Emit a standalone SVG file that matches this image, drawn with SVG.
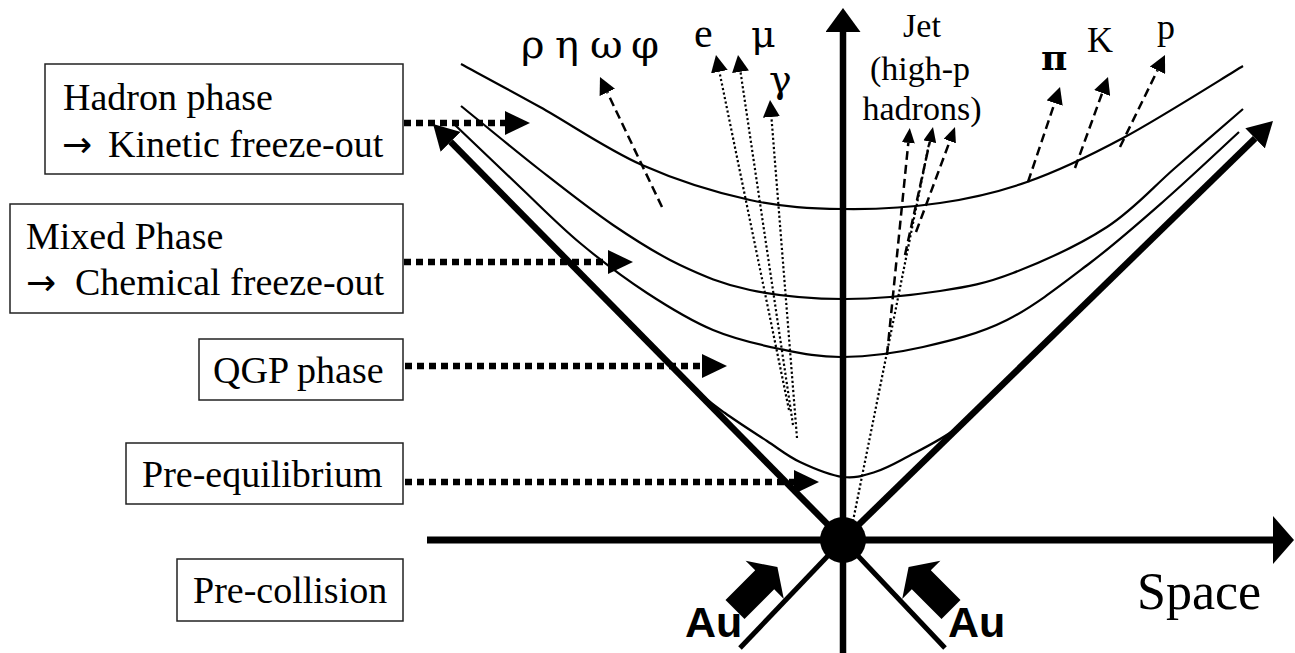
<svg xmlns="http://www.w3.org/2000/svg" width="1295" height="653" viewBox="0 0 1295 653">
<defs>
<style>
.box{fill:#fff;stroke:#222;stroke-width:1.5}
.lbl{font-family:"Liberation Serif","Times New Roman",serif;font-size:38px;fill:#000}
.arr{font-family:"DejaVu Sans",sans-serif;font-size:36px}
.phase{fill:none;stroke:#000;stroke-width:6.5;stroke-dasharray:7 5}
.curve{fill:none;stroke:#000;stroke-width:2.2}
.thick{fill:none;stroke:#000;stroke-width:6.5}
.leg{fill:none;stroke:#000;stroke-width:5}
.dash{fill:none;stroke:#000;stroke-width:2.5;stroke-dasharray:9 5}
.dot{fill:none;stroke:#000;stroke-width:2.2;stroke-dasharray:2.2 2.4}
.sym{font-family:"Liberation Serif","DejaVu Serif",serif;fill:#000}
.grk{font-family:"DejaVu Serif","Liberation Serif",serif;fill:#000}
.au{font-family:"Liberation Sans",Arial,sans-serif;font-weight:bold;font-size:43px;fill:#000}
</style>
<marker id="ahPhase" markerUnits="userSpaceOnUse" markerWidth="25" markerHeight="24" viewBox="0 0 25 24" refX="0" refY="12" orient="auto"><path d="M0,0L25,12L0,24z" fill="#000"/></marker>
<marker id="ahCone" markerUnits="userSpaceOnUse" markerWidth="25" markerHeight="28" viewBox="0 0 25 28" refX="0" refY="14" orient="auto"><path d="M0,0L25,14L0,28z" fill="#000"/></marker>
<marker id="ahV" markerUnits="userSpaceOnUse" markerWidth="24" markerHeight="35" viewBox="0 0 24 35" refX="0" refY="17.5" orient="auto"><path d="M0,0L24,17.5L0,35z" fill="#000"/></marker>
<marker id="ahH" markerUnits="userSpaceOnUse" markerWidth="21" markerHeight="48" viewBox="0 0 21 48" refX="0" refY="24" orient="auto"><path d="M0,0L21,24L0,48z" fill="#000"/></marker>
<marker id="ahS" markerUnits="userSpaceOnUse" markerWidth="17" markerHeight="17" viewBox="0 0 17 17" refX="0" refY="8.5" orient="auto"><path d="M0,0L17,8.5L0,17z" fill="#000"/></marker>
<marker id="ahJ" markerUnits="userSpaceOnUse" markerWidth="15" markerHeight="13" viewBox="0 0 15 13" refX="0" refY="6.5" orient="auto"><path d="M0,0L15,6.5L0,13z" fill="#000"/></marker>
</defs>
<rect width="1295" height="653" fill="#fff"/>

<g id="freeze-out-curves">
<path class="curve" d="M461,64 C474.2,71.2 509.8,90.2 540,107 C570.2,123.8 607,149.5 642,165 C677,180.5 716.5,192.7 750,200 C783.5,207.3 811.3,208.5 843,209 C874.7,209.5 909.3,207.5 940,203 C970.7,198.5 996.5,192.8 1027,182 C1057.5,171.2 1087,157.3 1123,138 C1159,118.7 1223,78 1243,66"/>
<path class="curve" d="M461,106 C474.2,116.7 514.7,150.2 540,170 C565.3,189.8 589.7,209.2 613,225 C636.3,240.8 657.2,254.2 680,265 C702.8,275.8 722.8,284.3 750,290 C777.2,295.7 811.3,298.8 843,299 C874.7,299.2 911.7,295.3 940,291 C968.3,286.7 985.2,283.7 1013,273 C1040.8,262.3 1080,244.5 1107,227 C1134,209.5 1152.3,187.7 1175,168 C1197.7,148.3 1231.7,118.8 1243,109"/>
<path class="curve" d="M455,125 C465.8,135.3 499.2,167.3 520,187 C540.8,206.7 558.8,225.3 580,243 C601.2,260.7 624.8,278.5 647,293 C669.2,307.5 690.8,320.7 713,330 C735.2,339.3 758.3,344.5 780,349 C801.7,353.5 819.2,357.3 843,357 C866.8,356.7 895.7,353.2 923,347 C950.3,340.8 979.2,334 1007,320 C1034.8,306 1063.7,283 1090,263 C1116.3,243 1140.2,221.8 1165,200 C1189.8,178.2 1226.7,143.3 1239,132"/>
<path class="curve" d="M640,334 C648.3,342.5 675.8,371.8 690,385 C704.2,398.2 712.2,403.7 725,413 C737.8,422.3 754.5,432.8 767,441 C779.5,449.2 787.3,456 800,462 C812.7,468 830.5,475.3 843,477 C855.5,478.7 864.3,475.3 875,472 C885.7,468.7 893.3,464.3 907,457 C920.7,449.7 941.5,439.7 957,428 C972.5,416.3 992.8,393.8 1000,387"/>
</g>

<g id="light-cone">
<path class="thick" d="M843,540 L450.6,141.8" marker-end="url(#ahCone)"/>
<path class="thick" d="M843,540 L1255.1,138.4" marker-end="url(#ahCone)"/>
<path class="leg" d="M843,540 L740,648"/>
<path class="leg" d="M843,540 L945,648"/>
</g>

<g id="axes">
<path class="thick" d="M843,653 L843,32" marker-end="url(#ahV)"/>
<path fill="none" stroke="#000" stroke-width="7" d="M427,540 L1273,540" marker-end="url(#ahH)"/>
<circle id="collision-point" cx="843" cy="540" r="23" fill="#000"/>
<text class="lbl" x="1137" y="609" style="font-size:52px">Space</text>
</g>

<g id="particles">
<path class="dash" d="M662,207 L607.3,92.4" marker-end="url(#ahS)"/>
<text class="grk" style="font-size:40px" x="521 543 555 577 590 619 631" y="58">ρ η ω φ</text>
<path class="dot" d="M789,410 L719.4,71.7" marker-end="url(#ahS)"/>
<path class="dot" d="M793,425 L740.5,71.8" marker-end="url(#ahS)"/>
<path class="dot" d="M797,438 L771.4,117" marker-end="url(#ahS)"/>
<text class="sym" style="font-size:42px" x="694" y="47">e</text>
<text class="grk" style="font-size:38px" x="751" y="47">μ</text>
<text class="grk" style="font-size:38px" x="769" y="92">γ</text>
<path class="dot" d="M852,526 L929,144"/>
<path class="dash" d="M887,355 L908.3,142.9" marker-end="url(#ahJ)"/>
<path class="dash" d="M905,255 L929.8,141.7" marker-end="url(#ahJ)"/>
<path class="dash" d="M916,232 L949.8,141.1" marker-end="url(#ahJ)"/>
<text class="sym" style="font-size:34px" text-anchor="middle" x="922" y="37">Jet</text>
<text class="sym" style="font-size:34px" text-anchor="middle" x="920" y="80">(high-p</text>
<text class="sym" style="font-size:34px" text-anchor="middle" x="922" y="120">hadrons)</text>
<path class="dash" d="M1028,182 L1054.6,103.1" marker-end="url(#ahS)"/>
<path class="dash" d="M1075,168 L1102.2,93" marker-end="url(#ahS)"/>
<path class="dash" d="M1120,147 L1157.5,70.3" marker-end="url(#ahS)"/>
<text class="grk" style="font-size:36px;font-weight:bold" x="1041" y="70">π</text>
<text class="sym" style="font-size:36px" x="1087" y="52">K</text>
<text class="sym" style="font-size:36px" x="1157" y="39">p</text>
</g>

<g id="au-beams">
<polygon points="725.5,600 755.2,570.3 745.6,560.7 777.4,567.1 783.8,598.9 774.2,589.3 744.5,619" fill="#000"/>
<polygon points="960.5,600 930.8,570.3 940.4,560.7 908.6,567.1 902.2,598.9 911.8,589.3 941.5,619" fill="#000"/>
<text class="au" x="685" y="637">Au</text>
<text class="au" x="948" y="637">Au</text>
</g>

<g id="connectors">
<path class="phase" d="M404,123 L505,123" marker-end="url(#ahPhase)"/>
<path class="phase" d="M404,262 L608,262" marker-end="url(#ahPhase)"/>
<path class="phase" d="M405,366 L702,366" marker-end="url(#ahPhase)"/>
<path class="phase" d="M405,482 L794,482" marker-end="url(#ahPhase)"/>
</g>

<g id="node-hadron">
<rect class="box" x="45" y="64" width="358" height="110"/>
<text class="lbl" x="63" y="110">Hadron phase</text>
<text class="lbl" x="62" y="157"><tspan class="arr">→</tspan> <tspan x="108">Kinetic freeze-out</tspan></text>
</g>
<g id="node-mixed">
<rect class="box" x="10" y="204" width="393" height="109"/>
<text class="lbl" x="26" y="249">Mixed Phase</text>
<text class="lbl" x="26" y="295"><tspan class="arr">→</tspan> <tspan x="75">Chemical freeze-out</tspan></text>
</g>
<g id="node-qgp">
<rect class="box" x="199" y="339" width="204" height="61"/>
<text class="lbl" x="213" y="383">QGP phase</text>
</g>
<g id="node-preeq">
<rect class="box" x="126" y="443" width="277" height="61"/>
<text class="lbl" x="142" y="487">Pre-equilibrium</text>
</g>
<g id="node-precollision">
<rect class="box" x="177" y="559" width="226" height="62"/>
<text class="lbl" x="193" y="603">Pre-collision</text>
</g>
</svg>
